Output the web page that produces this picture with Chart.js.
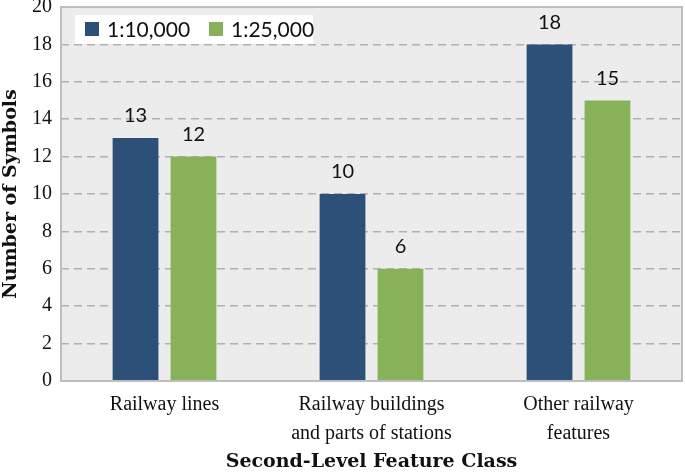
<!DOCTYPE html>
<html><head><meta charset="utf-8">
<script src="https://cdn.jsdelivr.net/npm/chart.js@4"></script>
<style>html,body{margin:0;padding:0;background:#fff}#w{width:685px;height:473px}</style>
</head><body><div id="w"><canvas id="c"></canvas></div>
<script>
const categories = [["Railway lines"], ["Railway buildings", "and parts of stations"], ["Other railway", "features"]];
const seriesNames = ["1:10,000", "1:25,000"];
const values10k = [13, 10, 18];
const values25k = [12, 6, 15];
const yTicks = [0, 2, 4, 6, 8, 10, 12, 14, 16, 18, 20];

const plotBg = {
  id: 'plotBg',
  beforeDraw(chart) {
    const {ctx, chartArea: a} = chart;
    ctx.save();
    ctx.fillStyle = '#ececec';
    ctx.fillRect(a.left, a.top, a.right - a.left, a.bottom - a.top);
    ctx.restore();
  },
  afterDatasetsDraw(chart) {
    const {ctx, chartArea: a} = chart;
    ctx.save();
    ctx.strokeStyle = '#bdbdbd';
    ctx.lineWidth = 2;
    ctx.strokeRect(a.left, a.top, a.right - a.left, a.bottom - a.top);
    // data labels
    ctx.fillStyle = '#111';
    ctx.font = '20px Lato';
    ctx.textAlign = 'center';
    ctx.textBaseline = 'middle';
    chart.data.datasets.forEach((ds, i) => {
      chart.getDatasetMeta(i).data.forEach((bar, j) => {
        ctx.fillText(String(ds.data[j]), bar.x, bar.y - 22);
      });
    });
    // legend
    ctx.fillStyle = '#fff';
    ctx.fillRect(a.left + 14, a.top + 8, 238, 29);
    ctx.font = '21px Lato';
    ctx.textAlign = 'left';
    let x = a.left + 24;
    chart.data.datasets.forEach((ds) => {
      ctx.fillStyle = ds.backgroundColor;
      ctx.fillRect(x, a.top + 15, 14, 14);
      ctx.fillStyle = '#111';
      ctx.fillText(ds.label, x + 22, a.top + 23);
      x += 124;
    });
    ctx.restore();
  }
};

new Chart(document.getElementById('c'), {
  type: 'bar',
  data: {
    labels: categories,
    datasets: [
      {label: seriesNames[0], data: values10k, backgroundColor: '#2c5078'},
      {label: seriesNames[1], data: values25k, backgroundColor: '#88b25a'}
    ]
  },
  options: {
    responsive: true,
    maintainAspectRatio: false,
    animation: false,
    categoryPercentage: 0.56,
    barPercentage: 0.79,
    layout: {padding: {top: 7, right: 3, left: 0, bottom: 0}},
    plugins: {legend: {display: false}, tooltip: {enabled: false}},
    scales: {
      x: {
        grid: {display: false, drawTicks: false},
        border: {display: false},
        ticks: {color: '#111', font: {family: 'Liberation Serif', size: 20, lineHeight: 1.45}, padding: 9, maxRotation: 0},
        title: {display: true, text: 'Second-Level Feature Class', color: '#111', font: {family: 'DejaVu Serif', size: 19, weight: 'bold'}, padding: {top: 6, bottom: 0}},
        afterFit(s) { s.height = 92; }
      },
      y: {
        min: 0, max: 20,
        afterBuildTicks(s) { s.ticks = yTicks.map(v => ({value: v})); },
        grid: {color: '#b0b0b0', lineWidth: 1.5, drawTicks: false},
        border: {display: false, dash: [8, 5]},
        ticks: {color: '#111', font: {family: 'Liberation Serif', size: 20, lineHeight: 0.7}, padding: 9},
        title: {display: true, text: 'Number of Symbols', color: '#111', font: {family: 'DejaVu Serif', size: 19, weight: 'bold'}, padding: {top: 0, bottom: 2}},
        afterFit(s) { s.width = 61; s.paddingTop = 0; s.paddingBottom = 0; }
      }
    }
  },
  plugins: [plotBg]
});
</script></body></html>
